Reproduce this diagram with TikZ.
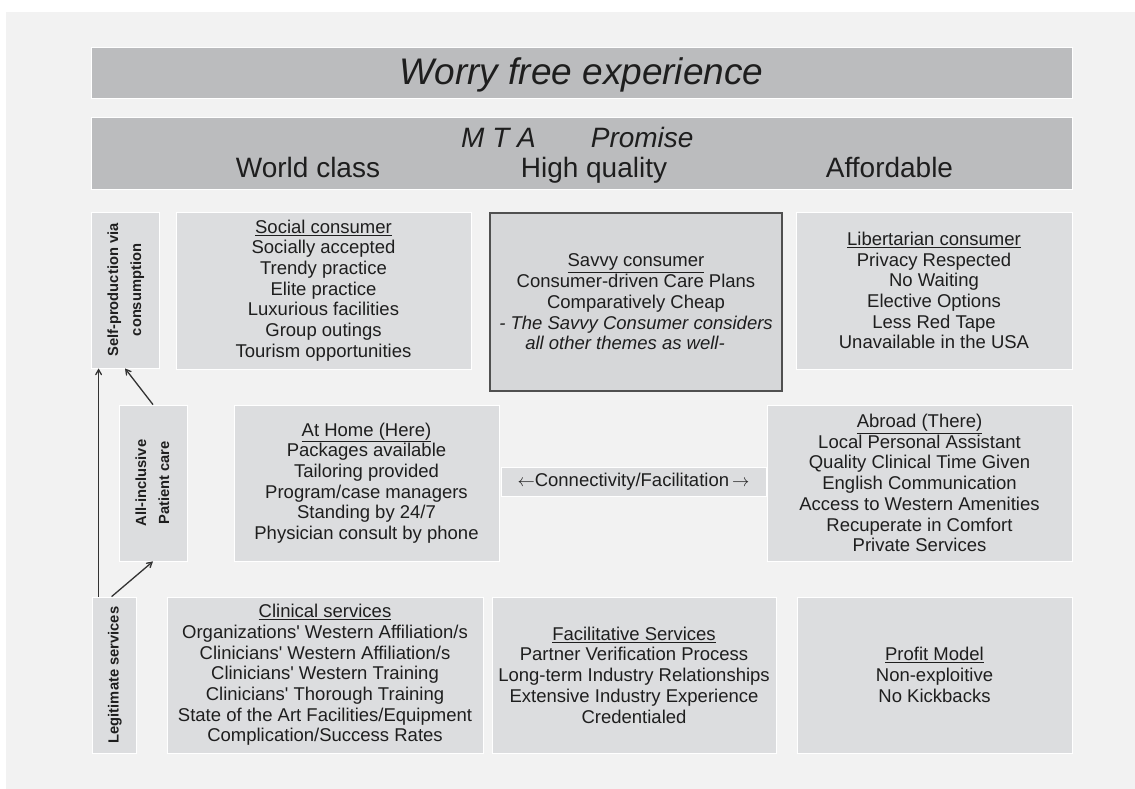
\documentclass[tikz,border=0pt]{standalone}
\usepackage{fontspec}
\setmainfont{Liberation Sans}
\usetikzlibrary{arrows}
\definecolor{bgGray}{HTML}{F2F2F2}
\definecolor{bannerGray}{HTML}{BBBCBE}
\definecolor{boxGray}{HTML}{DCDDDF}
\definecolor{savvyGray}{HTML}{D6D7D9}
\definecolor{edgeGray}{HTML}{505050}
\definecolor{inkBlack}{HTML}{1E1E1E}
\definecolor{arrowGray}{HTML}{333333}
\tikzset{
	banner/.style={fill=bannerGray, draw=white, line width=0.8pt, inner sep=0pt, text=inkBlack},
	pillar/.style={inner sep=0pt, text=inkBlack, font=\fontsize{28}{30}\selectfont},
	themebox/.style={fill=boxGray, draw=white, line width=0.8pt, inner sep=0pt, align=center, text=inkBlack, font=\fontsize{18.5}{20.7}\selectfont},
	sidebox/.style={themebox, font=\fontsize{14.7}{23}\selectfont\bfseries},
	link/.style={->, >=angle 60, line width=1.3pt, draw=arrowGray}
}
\newcommand{\sidetext}[1]{\rotatebox{90}{\begin{tabular}{@{}c@{}}#1\end{tabular}}}
\begin{document}
\begin{tikzpicture}[x=1pt, y=-1pt]
		\useasboundingbox (0,0) rectangle (1135,789);
		\fill[bgGray] (6,12) rectangle (1135,789);

		\node[banner, minimum width=981pt, minimum height=51pt, text height=27pt, text depth=2pt, font=\fontsize{37}{40}\selectfont\itshape] (worry) at (581.5,72.5) {Worry free experience};
		\node[banner, minimum width=981pt, minimum height=72pt] (promise) at (581.5,153) {};
		\node[pillar, anchor=base west, font=\fontsize{28}{30}\selectfont\itshape] (mta) at (461,147) {M T A\hspace{55pt}Promise};
		\node[pillar, anchor=base] (world) at (308,177) {World class};
		\node[pillar, anchor=base] (quality) at (594,177) {High quality};
		\node[pillar, anchor=base] (afford) at (889.5,177) {Affordable};

		\node[sidebox, minimum width=68pt, minimum height=156pt] (self) at (125,290) {\sidetext{Self-production via\\consumption}};
		\node[themebox, minimum width=295pt, minimum height=157pt] (social) at (323.5,290.5) {\underline{Social consumer}\\Socially accepted\\Trendy practice\\Elite practice\\Luxurious facilities\\Group outings\\Tourism opportunities};
		\node[themebox, fill=savvyGray, draw=edgeGray, line width=1.6pt, minimum width=292pt, minimum height=178pt] (savvy) at (636,302) {\underline{Savvy consumer}\\Consumer-driven Care Plans\\Comparatively Cheap\\\textit{- The Savvy Consumer considers}\\\textit{all other themes as well-}\hspace*{22pt}};
		\node[themebox, minimum width=276pt, minimum height=157pt] (libertarian) at (934,290.5) {\underline{Libertarian consumer}\\Privacy Respected\\No Waiting\\Elective Options\\Less Red Tape\\Unavailable in the USA};

		\node[sidebox, minimum width=68pt, minimum height=156pt] (allinc) at (153,483) {\sidetext{All-inclusive\\Patient care}};
		\node[themebox, minimum width=265pt, minimum height=156pt] (home) at (366.5,483) {\underline{At Home (Here)}\\Packages available\\Tailoring provided\\Program/case managers\\Standing by 24/7\\Physician consult by phone};
		\node[themebox, minimum width=265pt, minimum height=29pt] (connect) at (633.5,481.5) {$\leftarrow$Connectivity/Facilitation\,$\rightarrow$};
		\node[themebox, minimum width=305pt, minimum height=156pt] (abroad) at (919.5,483) {\underline{Abroad (There)}\\Local Personal Assistant\\Quality Clinical Time Given\\English Communication\\Access to Western Amenities\\Recuperate in Comfort\\Private Services};

		\node[sidebox, minimum width=44pt, minimum height=156pt] (legit) at (114,675) {\sidetext{Legitimate services}};
		\node[themebox, minimum width=316pt, minimum height=156pt] (clinical) at (325,675) {\underline{Clinical services}\\Organizations\textquotesingle\ Western Affiliation/s\\Clinicians\textquotesingle\ Western Affiliation/s\\Clinicians\textquotesingle\ Western Training\\Clinicians\textquotesingle\ Thorough Training\\State of the Art Facilities/Equipment\\Complication/Success Rates};
		\node[themebox, minimum width=284pt, minimum height=156pt] (facil) at (634,675) {\underline{Facilitative Services}\\Partner Verification Process\\Long-term Industry Relationships\\Extensive Industry Experience\\Credentialed};
		\node[themebox, minimum width=275pt, minimum height=156pt] (profit) at (934.5,675) {\underline{Profit Model}\\Non-exploitive\\No Kickbacks};

		\draw[link] ([xshift=7pt]legit.north west) -- ([xshift=8pt]self.south west);
		\draw[link] ([xshift=20pt]legit.north west) -- (allinc.south);
		\draw[link] (allinc.north) -- (self.south);
\end{tikzpicture}
\end{document}
